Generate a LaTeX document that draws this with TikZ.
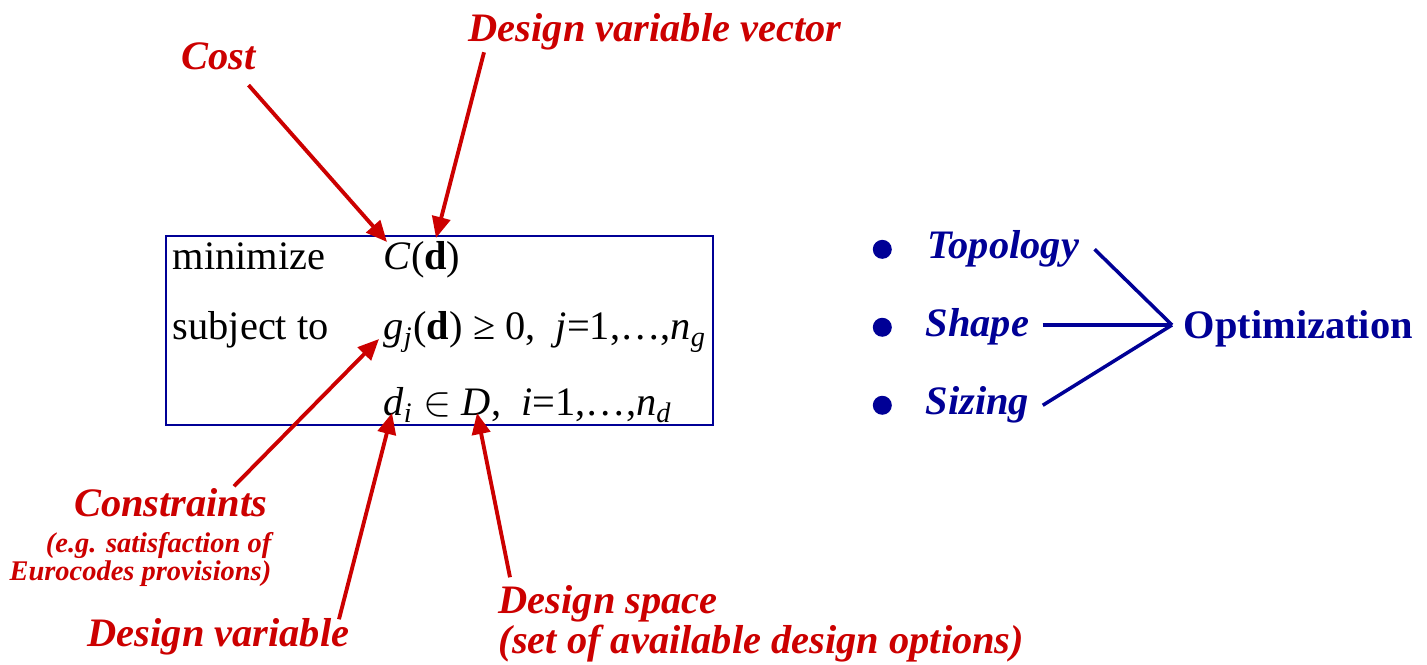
\documentclass[tikz,border=0pt]{standalone}
\usepackage{fontspec}
\setmainfont{Liberation Serif}
\usepackage{tikz}
\usetikzlibrary{arrows.meta}
\usetikzlibrary{positioning}

\definecolor{notered}{RGB}{204,0,0}
\definecolor{optblue}{RGB}{0,0,150}

\tikzset{
  note/.style={font=\fontsize{11.5}{13}\selectfont\bfseries\itshape, text=notered, inner sep=0pt},
  smallnote/.style={font=\fontsize{8.1}{9}\selectfont\bfseries\itshape, text=notered, inner sep=0pt, anchor=base east},
  pointer/.style={draw=notered, line width=1.1pt, -{Triangle[length=6pt,width=5.2pt]}},
  prob/.style={font=\fontsize{11.5}{13}\selectfont, inner sep=0pt, anchor=base west},
  kind/.style={font=\fontsize{11.5}{13}\selectfont\bfseries\itshape, text=optblue, inner sep=0pt, anchor=base west},
  dot/.style={circle, fill=optblue, inner sep=0pt, minimum size=0.19cm},
  link/.style={draw=optblue, line width=1pt},
}

\begin{document}
\begin{tikzpicture}
    \useasboundingbox (0,0) rectangle (14.27,6.64);

    % the problem statement
    \draw[optblue, line width=0.6pt] (1.66,2.39) rectangle (7.13,4.28);
    \node[prob] (minw) at (1.72,3.94) {minimize};
    \node[prob] (subj) at (1.72,3.24) {subject to};
    \node[prob] (row1) at (3.83,3.94) {\textit{C}(\textbf{d})};
    \node[prob] (row2) at (3.83,3.24) {\textit{g\textsubscript{j}}(\textbf{d}) ≥ 0,\ \ \textit{j}=1,…,\textit{n\textsubscript{g}}};
    \node[prob] (row3) at (3.83,2.48) {\textit{d\textsubscript{i}} $\in$ \textit{D},\ \ \textit{i}=1,…,\textit{n\textsubscript{d}}};

    \coordinate (costtip) at (3.87,4.22);
    \coordinate (vectip) at (4.36,4.26);
    \coordinate (gtip) at (3.79,3.25);
    \coordinate (ditip) at (3.92,2.51);
    \coordinate (Dtip) at (4.77,2.51);

    % labels
    \node[note, anchor=base west] (cost) at (1.81,5.94) {Cost};
    \node[note, anchor=base west] (dvec) at (4.68,6.22) {Design variable vector};
    \node[note, anchor=base east] (constr) at (2.68,1.48) {Constraints};
    \node[smallnote] (constr1) at (2.72,1.12) {(e.g. satisfaction of};
    \node[smallnote] (constr2) at (2.72,0.84) {Eurocodes provisions)};
    \node[note, anchor=base west] (dvar) at (0.87,0.18) {Design variable};
    \node[note, anchor=base west] (dspace) at (4.98,0.51) {Design space};
    \node[note, anchor=base west] (dspace2) at (4.98,0.11) {(set of available design options)};

    \draw[pointer] ([shift={(-0.08,-0.14)}]cost.south east) -- (costtip);
    \draw[pointer] ([shift={(0.16,-0.01)}]dvec.south west) -- (vectip);
    \draw[pointer] ([shift={(-0.34,0.01)}]constr.north east) -- (gtip);
    \draw[pointer] ([shift={(-0.11,-0.02)}]dvar.north east) -- (ditip);
    \draw[pointer] ([shift={(0.12,0.07)}]dspace.north west) -- (Dtip);

    % optimization types
    \node[kind] (topo) at (9.27,4.05) {Topology};
    \node[kind] (shape) at (9.25,3.27) {Shape};
    \node[kind] (sizing) at (9.25,2.49) {Sizing};
    \node[dot, left=0.345cm of topo] (b1) {};
    \node[dot, left=0.325cm of shape] (b2) {};
    \node[dot, left=0.325cm of sizing] (b3) {};
    \node[font=\fontsize{11.5}{13}\selectfont\bfseries, text=optblue, inner sep=0pt, anchor=base west] (opt) at (11.83,3.25) {Optimization};

    \coordinate (join) at (11.72,3.39);
    \coordinate (shapeend) at ([xshift=0.13cm]shape.east);
    \draw[link] ([xshift=0.15cm]topo.east) -- (join);
    \draw[link] (shapeend |- join) -- (join);
    \draw[link] ([xshift=0.13cm]sizing.east) -- (join);
\end{tikzpicture}
\end{document}
